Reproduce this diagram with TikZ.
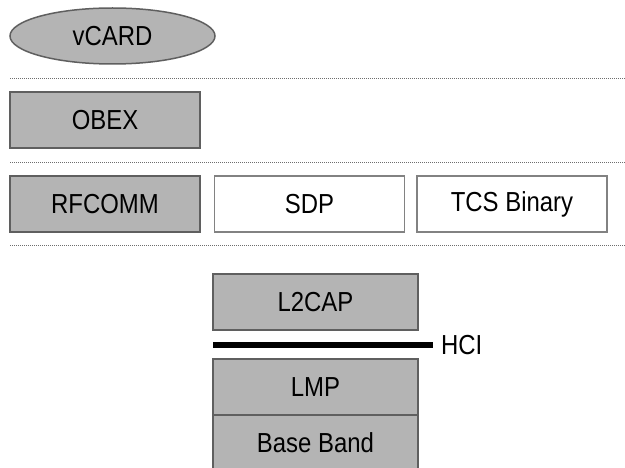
\documentclass[tikz,border=0pt]{standalone}
\usepackage{fontspec}
\setmainfont[FakeStretch=0.87]{Liberation Sans}
\usetikzlibrary{shapes.geometric}
\definecolor{boxgray}{RGB}{180,180,180}
\definecolor{edgegray}{RGB}{95,95,95}
\definecolor{lightedge}{RGB}{130,130,130}
\definecolor{dotgray}{RGB}{110,110,110}
\tikzset{
  lbl/.style={font=\fontsize{27.5}{30}\selectfont, text=black},
  gbox/.style={lbl, draw=edgegray, fill=boxgray, line width=1.5pt, minimum width=190pt, minimum height=56pt, inner sep=0pt},
  wbox/.style={lbl, draw=lightedge, fill=white, line width=1.5pt, minimum width=190pt, minimum height=56pt, inner sep=0pt},
  sbox/.style={gbox, minimum width=205pt},
  sep/.style={draw=dotgray, line width=1pt, dash pattern=on 1pt off 1pt},
  hciline/.style={draw=black, line width=6pt}
}
\begin{document}
\begin{tikzpicture}[x=1pt,y=-1pt]
\clip (0,0) rectangle (625,468);
\fill[white] (0,0) rectangle (625,468);
% vCARD ellipse
\node[ellipse, lbl, draw=edgegray, fill=boxgray, line width=1.5pt, minimum width=205pt, minimum height=56pt, inner sep=0pt] (vcard) at (112.5,36) {vCARD};
% separators
\coordinate (s1l) at (10,79);  \coordinate (s1r) at (625,79);
\coordinate (s2l) at (10,163); \coordinate (s2r) at (625,163);
\coordinate (s3l) at (10,246); \coordinate (s3r) at (625,246);
\draw[sep] (s1l) -- (s1r);
\draw[sep] (s2l) -- (s2r);
\draw[sep] (s3l) -- (s3r);
% boxes
\node[gbox] (obex) at (105,120) {OBEX};
\node[gbox] (rfcomm) at (105,204) {RFCOMM};
\node[wbox] (sdp) at (309.5,204) {SDP};
\node[wbox] (tcs) at (512,204) {TCS Binary};
\node[sbox] (l2cap) at (315.5,302) {L2CAP};
\node[sbox] (lmp) at (315.5,387) {LMP};
\node[sbox] (bb) at (315.5,443) {Base Band};
% HCI
\coordinate (hcil) at (213,345);
\node[lbl, anchor=west, inner sep=0pt] (hci) at (433,345) {\hspace{8pt}HCI};
\draw[hciline] (hcil) -- (hci.west);
\end{tikzpicture}
\end{document}
